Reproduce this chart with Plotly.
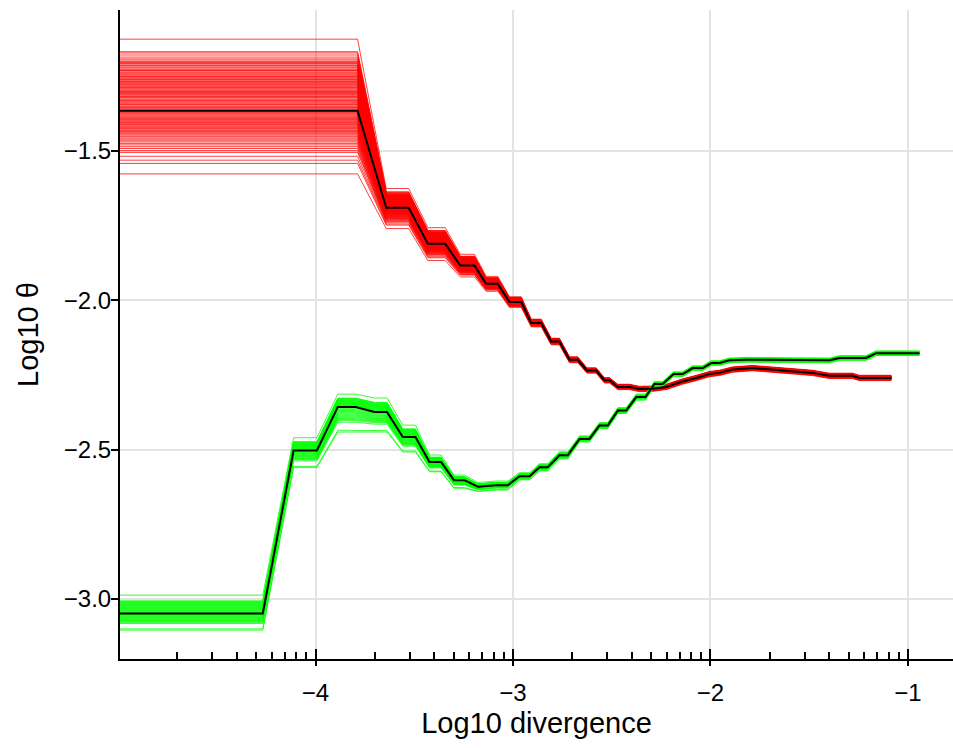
import numpy as np
import plotly.graph_objects as go

# ---------------- data ----------------
# Red series: mean (black) staircase
red_x = [-4.99, -3.787, -3.642, -3.528, -3.431, -3.343, -3.267, -3.195, -3.136, -3.077,
         -3.018, -2.958, -2.908, -2.857, -2.807, -2.765, -2.714, -2.672, -2.626, -2.579,
         -2.537, -2.511, -2.469, -2.410, -2.359, -2.294, -2.224, -2.174, -2.142, -2.072,
         -2.005, -1.954, -1.889, -1.787, -1.686, -1.585, -1.484, -1.397, -1.281, -1.246,
         -1.085]
red_mean = [-1.366, -1.366, -1.690, -1.690, -1.811, -1.811, -1.884, -1.884, -1.945, -1.945,
            -2.006, -2.006, -2.076, -2.076, -2.138, -2.138, -2.199, -2.199, -2.235, -2.235,
            -2.268, -2.268, -2.290, -2.290, -2.297, -2.296, -2.290, -2.279, -2.272, -2.260,
            -2.247, -2.243, -2.232, -2.227, -2.232, -2.238, -2.243, -2.253, -2.253, -2.260,
            -2.260]
# half-width of the replicate band above / below the mean at each vertex
red_up = [0.240, 0.240, 0.064, 0.064, 0.054, 0.054, 0.038, 0.038, 0.025, 0.025,
          0.018, 0.018, 0.013, 0.013, 0.011, 0.011, 0.010, 0.010, 0.009, 0.009,
          0.009, 0.009, 0.009, 0.009, 0.009, 0.009, 0.009, 0.009, 0.009, 0.009,
          0.009, 0.009, 0.009, 0.009, 0.009, 0.009, 0.009, 0.009, 0.009, 0.009,
          0.009]
red_down = [0.211, 0.211, 0.070, 0.070, 0.056, 0.056, 0.038, 0.038, 0.025, 0.025,
            0.018, 0.018, 0.013, 0.013, 0.011, 0.011, 0.010, 0.010, 0.009, 0.009,
            0.009, 0.009, 0.009, 0.009, 0.009, 0.009, 0.009, 0.009, 0.009, 0.009,
            0.009, 0.009, 0.009, 0.009, 0.009, 0.009, 0.009, 0.009, 0.009, 0.009,
            0.009]
# starting levels of the individual red replicate lines
red_start = [-1.126, -1.168, -1.172, -1.179, -1.186, -1.192, -1.196, -1.201, -1.204, -1.207,
             -1.209, -1.213, -1.215, -1.219, -1.222, -1.226, -1.229, -1.231, -1.233, -1.237,
             -1.240, -1.243, -1.246, -1.249, -1.251, -1.254, -1.258, -1.261, -1.263, -1.266,
             -1.268, -1.271, -1.274, -1.277, -1.279, -1.282, -1.285, -1.288, -1.290, -1.293,
             -1.296, -1.299, -1.301, -1.303, -1.305, -1.308, -1.311, -1.314, -1.318, -1.320,
             -1.322, -1.326, -1.329, -1.331, -1.334, -1.337, -1.340, -1.343, -1.345, -1.349,
             -1.352, -1.355, -1.357, -1.360, -1.363, -1.366, -1.369, -1.372, -1.374, -1.377,
             -1.380, -1.383, -1.386, -1.389, -1.391, -1.394, -1.396, -1.399, -1.402, -1.405,
             -1.408, -1.411, -1.413, -1.416, -1.419, -1.422, -1.425, -1.429, -1.432, -1.435,
             -1.438, -1.442, -1.446, -1.450, -1.453, -1.457, -1.461, -1.466, -1.470, -1.475,
             -1.480, -1.486, -1.492, -1.499, -1.505, -1.518, -1.531, -1.542, -1.577]

# Green series
green_x = [-4.99, -4.267, -4.111, -3.993, -3.887, -3.797, -3.701, -3.638, -3.558, -3.494,
           -3.423, -3.364, -3.299, -3.246, -3.178, -3.085, -3.026, -2.967, -2.916, -2.866,
           -2.824, -2.765, -2.723, -2.663, -2.613, -2.562, -2.520, -2.469, -2.427, -2.376,
           -2.329, -2.284, -2.242, -2.187, -2.140, -2.090, -2.039, -1.996, -1.954, -1.904,
           -1.819, -1.685, -1.585, -1.397, -1.347, -1.212, -1.161, -0.942]
green_mean = [-3.048, -3.048, -2.503, -2.503, -2.357, -2.357, -2.374, -2.374, -2.458, -2.458,
              -2.541, -2.541, -2.602, -2.602, -2.624, -2.619, -2.619, -2.589, -2.589, -2.559,
              -2.559, -2.519, -2.519, -2.464, -2.464, -2.419, -2.419, -2.369, -2.369, -2.324,
              -2.324, -2.280, -2.280, -2.247, -2.247, -2.227, -2.227, -2.210, -2.210, -2.201,
              -2.199, -2.199, -2.201, -2.201, -2.193, -2.193, -2.177, -2.177]
green_up = [0.061, 0.061, 0.043, 0.043, 0.043, 0.043, 0.047, 0.047, 0.040, 0.040,
            0.023, 0.023, 0.017, 0.017, 0.014, 0.014, 0.014, 0.012, 0.012, 0.012,
            0.012, 0.012, 0.012, 0.010, 0.010, 0.010, 0.010, 0.010, 0.010, 0.010,
            0.010, 0.008, 0.008, 0.008, 0.008, 0.008, 0.008, 0.008, 0.008, 0.008,
            0.008, 0.008, 0.008, 0.008, 0.008, 0.008, 0.008, 0.008]
green_down = [0.056, 0.056, 0.057, 0.057, 0.084, 0.084, 0.067, 0.067, 0.050, 0.050,
              0.033, 0.033, 0.027, 0.027, 0.016, 0.016, 0.016, 0.012, 0.012, 0.012,
              0.012, 0.012, 0.012, 0.010, 0.010, 0.010, 0.010, 0.010, 0.010, 0.010,
              0.010, 0.008, 0.008, 0.008, 0.008, 0.008, 0.008, 0.008, 0.008, 0.008,
              0.008, 0.008, 0.008, 0.008, 0.008, 0.008, 0.008, 0.008]
green_start = [-2.987, -3.006, -3.008, -3.010, -3.012, -3.014, -3.016, -3.018, -3.020, -3.022,
               -3.024, -3.026, -3.028, -3.030, -3.032, -3.034, -3.036, -3.038, -3.040, -3.042,
               -3.044, -3.046, -3.050, -3.052, -3.054, -3.056, -3.058, -3.060, -3.062, -3.064,
               -3.066, -3.068, -3.070, -3.072, -3.074, -3.076, -3.078, -3.082, -3.100, -3.104]

x_major = [-4, -3, -2, -1]
x_labels = ["\u22124", "\u22123", "\u22122", "\u22121"]
y_major = [-3.0, -2.5, -2.0, -1.5]
y_labels = ["\u22123.0", "\u22122.5", "\u22122.0", "\u22121.5"]
x_range = [-4.99, -0.772]
y_range = [-3.2007, -1.0284]
x_title = "Log10 divergence"
y_title = "Log10 \u03b8"

# minor (log-style) ticks within each decade
x_minor = [d + np.log10(k) for d in (-5, -4, -3, -2) for k in range(2, 10)]
x_minor = [v for v in x_minor if v > x_range[0]]


def replicate_paths(xs, mean, up, down, starts):
    mean = np.asarray(mean); up = np.asarray(up); down = np.asarray(down)
    px, py = [], []
    for s in starts:
        r = s - mean[0]
        if r >= 0:
            y = mean + (r / up[0]) * up
        else:
            y = mean + (r / down[0]) * down
        px += list(xs) + [None]
        py += list(y) + [None]
    return px, py


fig = go.Figure()

rx, ry = replicate_paths(red_x, red_mean, red_up, red_down, red_start)
gx, gy = replicate_paths(green_x, green_mean, green_up, green_down, green_start)

fig.add_trace(go.Scatter(x=rx, y=ry, mode="lines", line=dict(color="rgba(255,0,0,0.75)", width=1),
                         hoverinfo="skip", showlegend=False))
fig.add_trace(go.Scatter(x=gx, y=gy, mode="lines", line=dict(color="rgba(0,255,0,0.8)", width=1),
                         hoverinfo="skip", showlegend=False))
fig.add_trace(go.Scatter(x=red_x, y=red_mean, mode="lines", line=dict(color="black", width=2),
                         showlegend=False))
fig.add_trace(go.Scatter(x=green_x, y=green_mean, mode="lines", line=dict(color="black", width=2),
                         showlegend=False))
# invisible trace so the overlay axis (inner part of major ticks) is drawn
fig.add_trace(go.Scatter(x=green_x, y=green_mean, mode="lines", xaxis="x2",
                         line=dict(color="rgba(0,0,0,0)", width=0), hoverinfo="skip", showlegend=False))

font_family = "Liberation Sans, Arial, sans-serif"
grid_col = "#e3e3e3"

fig.update_layout(
    width=953, height=748,
    margin=dict(l=120, r=0, t=10, b=89),
    paper_bgcolor="white", plot_bgcolor="white",
    font=dict(family=font_family, color="black"),
    xaxis=dict(
        range=x_range, tickvals=x_major, ticktext=x_labels, automargin=False,
        ticks="outside", ticklen=5, tickwidth=2, tickcolor="black",
        showline=True, linecolor="black", linewidth=2,
        showgrid=True, gridcolor=grid_col, gridwidth=1.5, zeroline=False,
        tickfont=dict(size=24), ticklabelstandoff=6,
        title=dict(text=x_title, font=dict(size=29), standoff=8),
        minor=dict(tickvals=x_minor, ticks="inside", ticklen=7, tickwidth=1.5,
                   tickcolor="black", showgrid=False),
    ),
    xaxis2=dict(
        range=x_range, overlaying="x", anchor="y", side="bottom", automargin=False,
        tickvals=x_major, ticks="inside", ticklen=10, tickwidth=2, tickcolor="black",
        showticklabels=False, showgrid=False, showline=False, zeroline=False,
    ),
    yaxis=dict(
        range=y_range, tickvals=y_major, ticktext=y_labels, automargin=False,
        ticks="outside", ticklen=7, tickwidth=2, tickcolor="black",
        showline=True, linecolor="black", linewidth=2,
        showgrid=True, gridcolor=grid_col, gridwidth=1.5, zeroline=False,
        tickfont=dict(size=24), ticklabelstandoff=-5,
        title=dict(text=y_title, font=dict(size=29), standoff=17),
    ),
)

fig.write_html("out.html", config={"displayModeBar": False},
               post_script="document.body.style.margin='0';document.body.style.overflow='hidden';")
